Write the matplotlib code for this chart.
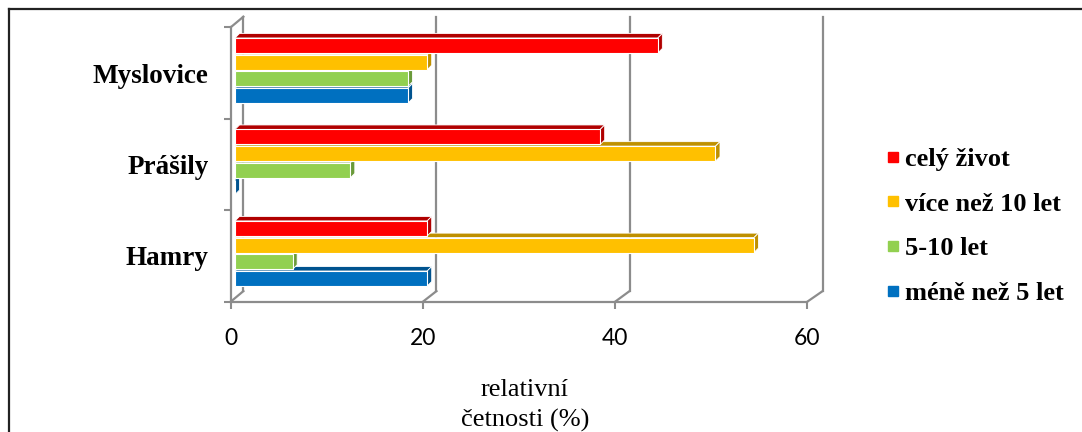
import matplotlib.pyplot as plt
from matplotlib.lines import Line2D
from matplotlib.patches import Polygon

# data (relative frequency, %)
categories = ['Hamry', 'Prášily', 'Myslovice']
series_names = ['méně než 5 let', '5-10 let', 'více než 10 let', 'celý život']
mene_nez_5 = [20, 0, 18]
let_5_10 = [6, 12, 18]
vice_nez_10 = [54, 50, 20]
cely_zivot = [20, 38, 44]
x_ticks = [0, 20, 40, 60]

colors = ['#0070C0', '#92D050', '#FFC000', '#FF0000']
side_colors = ['#00538F', '#6A9A3A', '#BF9000', '#B00000']
grid_col = '#8C8C8C'

W, H = 1082, 432
# front plane in pixels
X0, X1 = 230.7, 807.3
YT, YB = 27.3, 301.7
XPU = (X1 - X0) / 60
YPU = (YB - YT) / 3


def back_dx(v):
    return (12.7 + 2.6 * v / 60) / XPU


BACK_DY = 10.6 / YPU
BAR_X0 = 4.3 / XPU
BAR_H = 15.0 / YPU
PITCH = 16.7 / YPU
GROUP_SHIFT = 2.5 / YPU
DEP_X = 4.5 / XPU
DEP_Y = 4.5 / YPU


def main():
    fig = plt.figure(figsize=(W / 100, H / 100), dpi=100)
    ax = fig.add_axes([X0 / W, 1 - YB / H, (X1 - X0) / W, (YB - YT) / H])
    ax.set_xlim(0, 60)
    ax.set_ylim(-0.5, 2.5)
    ax.patch.set_alpha(0)

    # walls / gridlines
    for v in x_ticks:
        bx = v + back_dx(v)
        ax.plot([v, bx], [-0.5, -0.5 + BACK_DY], color=grid_col, lw=1.6,
                clip_on=False, zorder=1)
        ax.plot([bx, bx], [-0.5 + BACK_DY, 2.5 + BACK_DY], color=grid_col,
                lw=1.6, clip_on=False, zorder=1)
    ax.plot([0, back_dx(0)], [2.5, 2.5 + BACK_DY], color=grid_col, lw=1.6,
            clip_on=False, zorder=1)

    # bars, bottom series first so upper bars cover the top faces
    all_series = [mene_nez_5, let_5_10, vice_nez_10, cely_zivot]
    for s, vals in enumerate(all_series):
        offs = (s - 1.5) * PITCH + GROUP_SHIFT
        ys = [i + offs for i in range(len(categories))]
        z = 3 + s
        ax.barh(ys, vals, left=BAR_X0, height=BAR_H, color=colors[s],
                edgecolor='white', linewidth=0.8, zorder=z)
        for y, v in zip(ys, vals):
            xl = BAR_X0
            xr = BAR_X0 + v
            yt = y + BAR_H / 2
            yb = y - BAR_H / 2
            top = Polygon([(xl, yt), (xr, yt), (xr + DEP_X, yt + DEP_Y),
                           (xl + DEP_X, yt + DEP_Y)], closed=True,
                          facecolor=side_colors[s], edgecolor='white',
                          linewidth=0.6, zorder=z - 0.5)
            right = Polygon([(xr, yb), (xr + DEP_X, yb + DEP_Y),
                             (xr + DEP_X, yt + DEP_Y), (xr, yt)], closed=True,
                            facecolor=side_colors[s], edgecolor='white',
                            linewidth=0.6, zorder=z - 0.4)
            ax.add_patch(top)
            ax.add_patch(right)

    # axes
    for side in ['top', 'right']:
        ax.spines[side].set_visible(False)
    for side in ['left', 'bottom']:
        ax.spines[side].set_color(grid_col)
        ax.spines[side].set_linewidth(1.6)
        ax.spines[side].set_zorder(2)

    ax.set_xticks(x_ticks)
    ax.set_xticklabels([str(t) for t in x_ticks], fontfamily='Lato',
                       fontsize=16.5)
    ax.tick_params(axis='x', length=5, width=1.5, color=grid_col, pad=14)

    ax.set_yticks(range(len(categories)))
    ax.set_yticklabels(categories, fontfamily='Liberation Serif',
                       fontweight='bold', fontsize=19.5)
    ax.tick_params(axis='y', which='major', length=0, pad=16)
    ax.set_yticks([-0.5, 0.5, 1.5, 2.5], minor=True)
    ax.tick_params(axis='y', which='minor', length=5, width=1.5, color=grid_col)

    ax.set_xlabel('relativní\nčetnosti (%)', fontfamily='Liberation Serif',
                  fontsize=19, linespacing=1.45)
    ax.xaxis.set_label_coords((525 - X0) / (X1 - X0), -0.282)

    # legend
    handles = [Line2D([], [], linestyle='none', marker='s', markersize=7.5,
                      color=colors[s]) for s in [3, 2, 1, 0]]
    labels = [series_names[s] for s in [3, 2, 1, 0]]
    fig.legend(handles, labels, loc='upper left',
               bbox_to_anchor=(875.5 / W, 1 - 137 / H), frameon=False,
               prop={'family': 'Liberation Serif', 'weight': 'bold',
                     'size': 19},
               handlelength=0.5, handletextpad=0.22, labelspacing=0.8,
               borderaxespad=0)

    # outer frame
    fig.add_artist(Line2D([9 / W, 1], [1 - 9 / H, 1 - 9 / H], color='#222222',
                          lw=1.6))
    fig.add_artist(Line2D([9 / W, 9 / W], [0, 1 - 9 / H], color='#222222',
                          lw=1.6))

    fig.savefig('out.png', dpi=100)


if __name__ == '__main__':
    main()
